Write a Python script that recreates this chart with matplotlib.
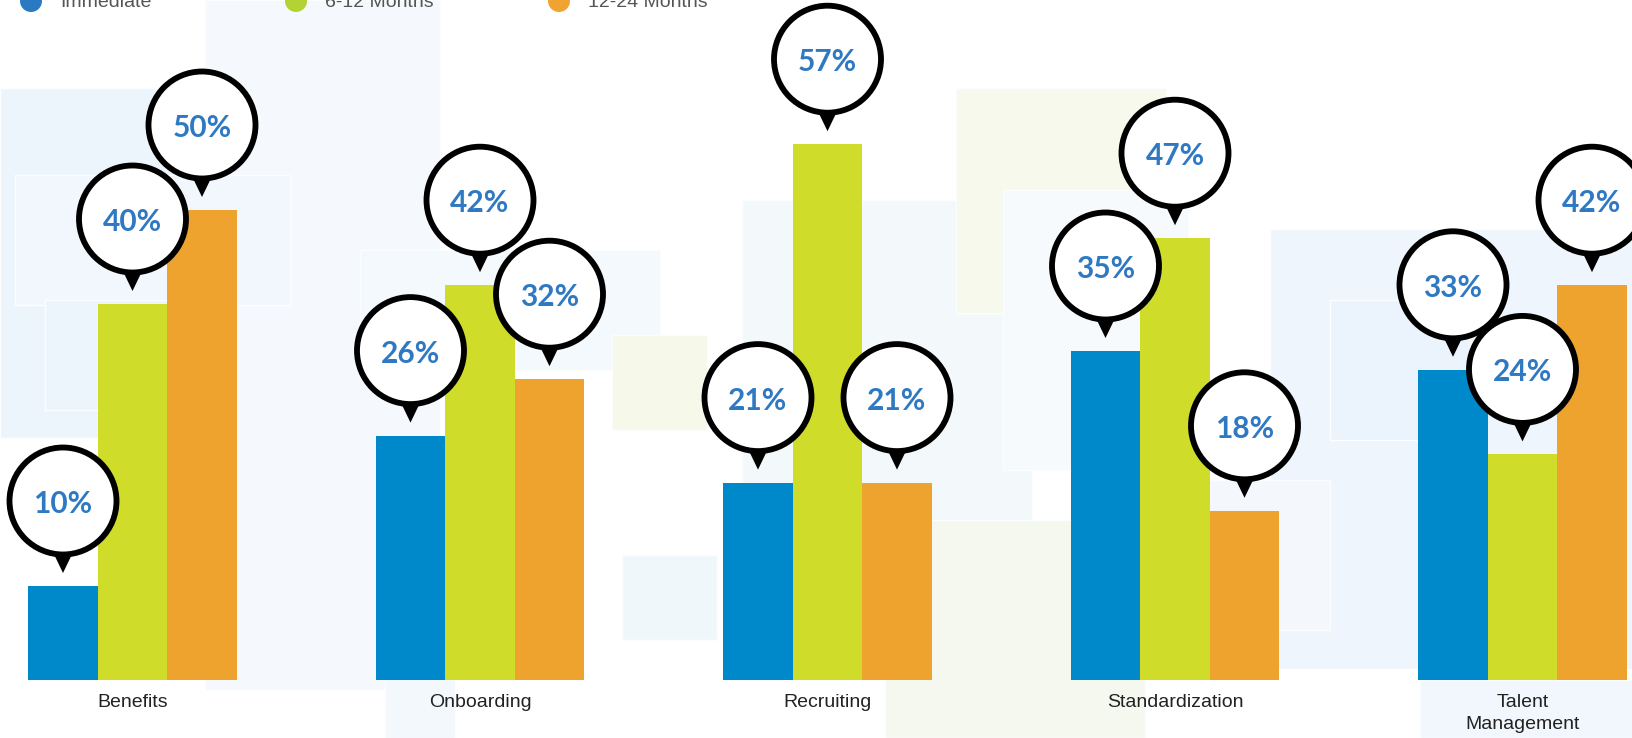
import matplotlib
matplotlib.use("Agg")
import matplotlib.pyplot as plt
from matplotlib.patches import Circle, Polygon, Rectangle, Ellipse
from matplotlib import transforms
import numpy as np

# Datos del grafico
categories = ["Benefits", "Onboarding", "Recruiting", "Standardization", "Talent\nManagement"]
series_names = ["Immediate", "6-12 Months", "12-24 Months"]
immediate = [10, 26, 21, 35, 33]
months_6_12 = [40, 42, 57, 47, 24]
months_12_24 = [50, 32, 21, 18, 42]

bar_colors = ["#0089ca", "#cfdc29", "#eea32e"]
legend_colors = ["#2b78c3", "#b3d234", "#f0a330"]
label_color = "#2f79c3"

W, H = 1633, 738
fig = plt.figure(figsize=(W / 100, H / 100), dpi=100)
fig.patch.set_facecolor("white")

# Cuadrados decorativos del fondo (pixeles: x, y desde arriba, ancho, alto, color)
bg_squares = [
    (0, 88, 335, 350, "#edf5fc"),
    (205, 0, 235, 690, "#f5f9fd"),
    (15, 175, 275, 130, "#f1f7fd"),
    (45, 300, 150, 110, "#ecf4fc"),
    (360, 250, 300, 120, "#f3f9fc"),
    (612, 335, 95, 95, "#f6f8e9"),
    (742, 200, 290, 480, "#f3f9fb"),
    (956, 88, 210, 225, "#f6f9ec"),
    (1003, 190, 185, 280, "#f7fafc"),
    (885, 520, 260, 218, "#f5f8ee"),
    (622, 555, 95, 85, "#f0f7fb"),
    (1270, 229, 363, 440, "#eef5fc"),
    (1330, 300, 140, 140, "#ebf3fc"),
    (1180, 480, 150, 150, "#f4f8fd"),
    (385, 465, 70, 273, "#f3f8fc"),
    (1420, 680, 213, 58, "#f2f7fd"),
]
for x, y, w, h, c in bg_squares:
    fig.add_artist(Rectangle((x / W, 1 - (y + h) / H), w / W, h / H,
                             transform=fig.transFigure, facecolor=c,
                             edgecolor="#fbfdff", linewidth=1.0, zorder=0))

# Ejes: base de las barras en y=680 px, 9.4 px por punto porcentual
ax = fig.add_axes([0, 58 / H, 1, 680 / H])
ax.set_facecolor("none")
ax.set_xlim(-132.5 / 347.5, (W - 132.5) / 347.5)
ax.set_ylim(0, 680 / 9.4)

x = np.arange(len(categories))
width = 0.2
all_series = [immediate, months_6_12, months_12_24]
for i, vals in enumerate(all_series):
    ax.bar(x + (i - 1) * width, vals, width, color=bar_colors[i], zorder=2)

# Globos con el valor encima de cada barra (medidas en pulgadas, 100 px)
for i, vals in enumerate(all_series):
    for j, v in enumerate(vals):
        xc = x[j] + (i - 1) * width
        trans = fig.dpi_scale_trans + transforms.ScaledTranslation(xc, v, ax.transData)
        tri = Polygon([(-0.13, 0.40), (0.13, 0.40), (0.0, 0.13)], closed=True,
                      facecolor="black", edgecolor="none", transform=trans,
                      zorder=5, clip_on=False)
        circ = Circle((0, 0.85), 0.535, facecolor="white", edgecolor="black",
                      linewidth=4.2, transform=trans, zorder=6, clip_on=False)
        ax.add_artist(tri)
        ax.add_artist(circ)
        ax.text(0, 0.82, f"{v}%", transform=trans, ha="center", va="center",
                fontsize=21.5, fontweight="bold", family="Lato", color=label_color,
                zorder=7, clip_on=False)

ax.set_xticks(x)
ax.set_xticklabels(categories, fontsize=14, family="Liberation Sans",
                   color="#222222", linespacing=1.4)
ax.tick_params(axis="x", length=0, pad=10)
ax.set_yticks([])
for s in ax.spines.values():
    s.set_visible(False)

# Leyenda cortada en la parte superior
legend_x = [31, 296, 559]
for k, name in enumerate(series_names):
    fig.add_artist(Ellipse((legend_x[k] / W, 1 - 1 / H), 22 / W, 22 / H,
                           transform=fig.transFigure, facecolor=legend_colors[k],
                           edgecolor="none", zorder=3))
    fig.text((legend_x[k] + 29) / W, 1 - 7 / H, name, fontsize=14,
             family="Liberation Sans", color="#555555", ha="left", va="baseline")

fig.savefig("out.png", dpi=100)
